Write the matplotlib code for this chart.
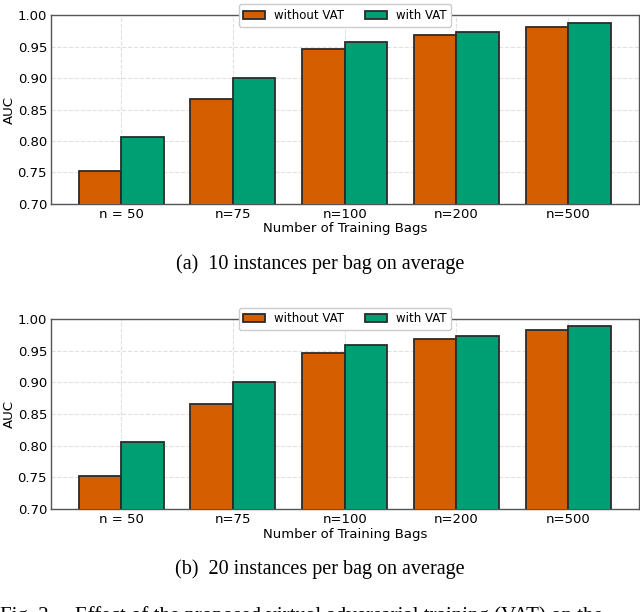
import matplotlib
matplotlib.use("Agg")
import matplotlib.pyplot as plt
import numpy as np

# 数据
groups = ["n = 50", "n=75", "n=100", "n=200", "n=500"]
auc_without_vat = [0.752, 0.866, 0.946, 0.968, 0.982]
auc_with_vat = [0.806, 0.901, 0.958, 0.973, 0.988]
captions = ["(a)  10 instances per bag on average",
            "(b)  20 instances per bag on average"]
fig_caption = "Fig. 2.    Effect of the proposed virtual adversarial training (VAT) on the"

C_WO = "#D55E00"
C_W = "#009E73"

plt.rcParams["font.family"] = ["DejaVu Sans"]

fig = plt.figure(figsize=(6.4, 6.12), dpi=100)
axes_pos = [[0.08, 0.667, 0.918, 0.308],
            [0.08, 0.168, 0.918, 0.311]]
caption_y = [0.568, 0.070]


def draw_panel(ax):
    x = np.arange(len(groups))
    w = 0.38
    ax.bar(x - w / 2, auc_without_vat, w, color=C_WO, edgecolor="#2b2b2b",
           linewidth=1.3, label="without VAT", zorder=3)
    ax.bar(x + w / 2, auc_with_vat, w, color=C_W, edgecolor="#2b2b2b",
           linewidth=1.3, label="with VAT", zorder=3)
    ax.set_xticks(x)
    ax.set_xticklabels(groups, fontsize=9.5)
    ax.set_xlim(-0.625, 4.63)
    ax.set_ylim(0.70, 1.00)
    yt = np.arange(0.70, 1.001, 0.05)
    ax.set_yticks(yt)
    ax.set_yticklabels([f"{v:.2f}" for v in yt], fontsize=9.5)
    ax.grid(True, linestyle="--", color="#e0e0e0", linewidth=0.8, zorder=0)
    ax.set_axisbelow(True)
    ax.tick_params(length=0, pad=3)
    ax.set_ylabel("AUC", fontsize=9.5, labelpad=1)
    ax.set_xlabel("Number of Training Bags", fontsize=9.5, labelpad=1)
    for s in ax.spines.values():
        s.set_color("#555555")
        s.set_linewidth(1.0)
    leg = ax.legend(loc="center", bbox_to_anchor=(0.5, 1.0), ncol=2, fontsize=8.5,
                    frameon=True, fancybox=True, framealpha=1,
                    edgecolor="#cccccc", handlelength=1.8, columnspacing=1.8,
                    borderpad=0.4)
    leg.set_zorder(5)


for pos, cap, cy in zip(axes_pos, captions, caption_y):
    ax = fig.add_axes(pos)
    draw_panel(ax)
    fig.text(0.5, cy, cap, ha="center", va="center", fontsize=14.5,
             family="Liberation Serif")

# 图注在原图底部被截断
fig.text(0.0, -0.006, fig_caption, ha="left", va="center", fontsize=15,
         family="Liberation Serif")

fig.savefig("out.png", dpi=100)
